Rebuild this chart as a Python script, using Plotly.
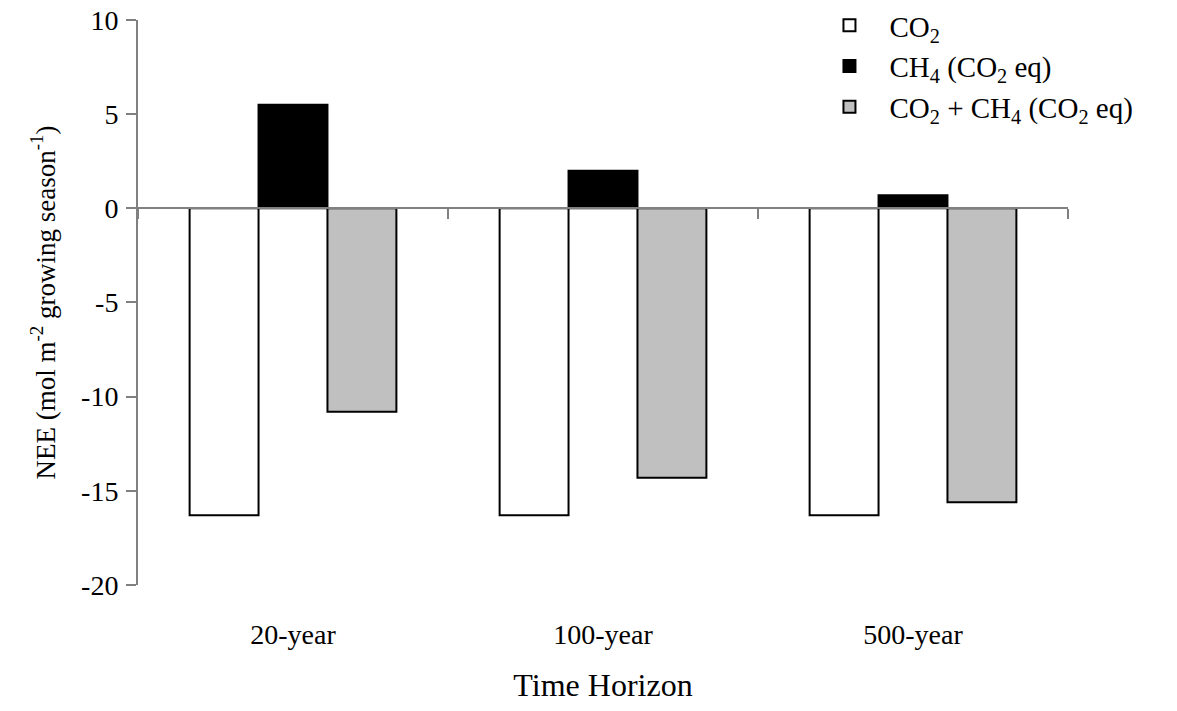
import plotly.graph_objects as go

categories = ["20-year", "100-year", "500-year"]
co2 = [-16.3, -16.3, -16.3]
ch4_eq = [5.5, 2.0, 0.7]
co2_plus_ch4 = [-10.8, -14.3, -15.6]
series_names = ["CO<sub>2</sub>", "CH<sub>4</sub> (CO<sub>2</sub> eq)",
                "CO<sub>2</sub> + CH<sub>4</sub> (CO<sub>2</sub> eq)"]
y_ticks = [-20, -15, -10, -5, 0, 5, 10]
y_range = [-20, 10]

FONT = "Liberation Serif, Times New Roman, serif"
AXIS_GRAY = "#808080"

# layout geometry (pixels)
H = 711
M_TOP, M_BOT = 0, 125.5
PLOT_TOP_GAP = 20
plot_h = H - M_TOP - M_BOT
y_dom_top = (plot_h - PLOT_TOP_GAP) / plot_h
zero_frac = (0 - y_range[0]) / (y_range[1] - y_range[0])

fig = go.Figure()
fills = ["#ffffff", "#000000", "#c0c0c0"]
for i, (name, vals, fill) in enumerate(zip(series_names, [co2, ch4_eq, co2_plus_ch4], fills)):
    fig.add_trace(go.Bar(
        x=categories, y=vals, name=name, legendgroup=f"g{i}",
        marker=dict(color=fill, line=dict(color="#000000", width=2)),
    ))

# invisible trace to carry the zero-level category axis with boundary ticks
fig.add_trace(go.Scatter(x=categories, y=[None] * len(categories), xaxis="x2",
                         showlegend=False, hoverinfo="skip", mode="markers"))

fig.update_layout(
    width=1177, height=H,
    margin=dict(l=138, r=109, t=M_TOP, b=M_BOT, autoexpand=False),
    plot_bgcolor="white", paper_bgcolor="white",
    font=dict(family=FONT, size=28, color="black"),
    barmode="group", bargap=0.333, bargroupgap=0,
    showlegend=True,
    legend=dict(x=0.722, y=1.0, xanchor="left", yanchor="top",
                bgcolor="rgba(0,0,0,0)", font=dict(size=29, family=FONT),
                tracegroupgap=0, itemwidth=70),
    xaxis=dict(type="category", categoryorder="array", categoryarray=categories,
               range=[-0.5, 2.5], showline=False, showgrid=False, zeroline=False,
               ticks="", ticklabelstandoff=30,
               tickfont=dict(size=28, family=FONT),
               title=dict(text="Time Horizon", font=dict(size=32, family=FONT), standoff=24)),
    xaxis2=dict(type="category", categoryorder="array", categoryarray=categories,
                range=[-0.5, 2.5], overlaying="x", anchor="free",
                position=y_dom_top * zero_frac,
                showline=True, linecolor=AXIS_GRAY, linewidth=1.5,
                ticks="outside", tickson="boundaries", ticklen=10, tickcolor=AXIS_GRAY,
                tickwidth=1.5, showticklabels=False, showgrid=False, zeroline=False),
    yaxis=dict(range=y_range, domain=[0, y_dom_top],
               tickvals=y_ticks, ticktext=[str(v) for v in y_ticks],
               showline=True, linecolor=AXIS_GRAY, linewidth=2,
               ticks="outside", ticklen=10, tickcolor=AXIS_GRAY, tickwidth=1.5,
               showgrid=False, zeroline=False, ticklabelstandoff=2,
               tickfont=dict(size=28, family=FONT),
               title=dict(text="NEE (mol m<sup>-2</sup> growing season<sup>-1</sup>)",
                          font=dict(size=27, family=FONT), standoff=18)),
)

fig.write_html("out.html")
